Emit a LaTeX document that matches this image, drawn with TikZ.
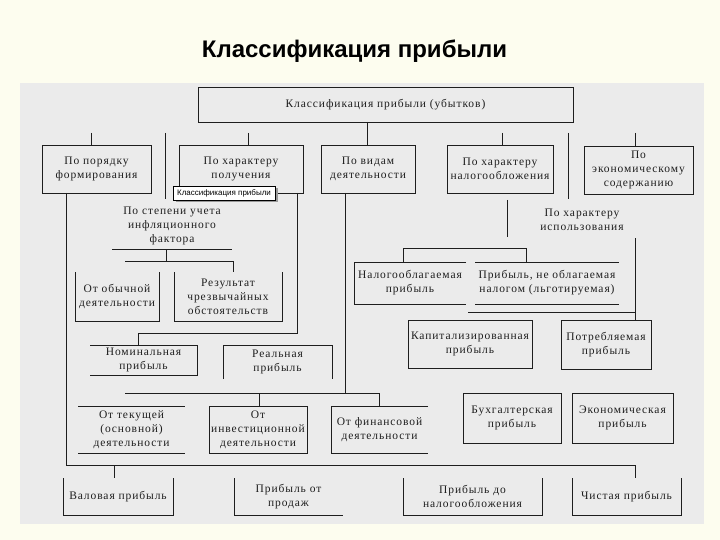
\documentclass[tikz,border=0pt]{standalone}
\usepackage{fontspec}
\setmainfont{Liberation Serif}
\newfontfamily\dserif[LetterSpace=8]{Liberation Serif}
\newfontfamily\titlefont{Liberation Sans}
\newfontfamily\tipfont{Liberation Sans}
\definecolor{cream}{HTML}{FDFDEF}
\definecolor{panel}{HTML}{EBEBEB}
\definecolor{ink}{HTML}{1E1E1E}
\newcommand\dfont{\dserif\fontsize{11.5}{14}\selectfont}
\tikzset{
  ln/.style={draw=ink, line width=0.8pt},
  bx/.style={inner sep=0pt, outer sep=0pt, align=center, font=\dfont, text=ink},
  fb/.style={bx, ln},
}
\begin{document}
\begin{tikzpicture}[x=1pt,y=-1pt]
\useasboundingbox (0,0) rectangle (720,540);
\fill[cream] (0,0) rectangle (720,540);
\fill[panel] (20,83) rectangle (704,524);
\node[font=\titlefont\bfseries\fontsize{24}{27}\selectfont, text=black] (title) at (354.5,51) {Классификация прибыли};

% level 1
\node[fb, minimum width=375, minimum height=35] (top) at (385.5,104.5) {Классификация прибыли (убытков)};
\node[fb, minimum width=109, minimum height=48] (p1) at (96.5,169) {По порядку\\формирования};
\node[fb, minimum width=124, minimum height=48] (p2) at (241,169) {По характеру\\получения};
\node[fb, minimum width=94, minimum height=48] (p3) at (368,169) {По видам\\деятельности};
\node[fb, minimum width=106, minimum height=48] (p4) at (500,169) {По характеру\\налогообложения};
\node[fb, minimum width=109, minimum height=48] (p5) at (638.5,170) {По\\экономическому\\содержанию};

% free text nodes
\node[bx] (ps) at (172,226) {По степени учета\\инфляционного\\фактора};
\node[bx] (pu) at (582,220) {По характеру\\использования};

% level 2 boxes
\node[bx, minimum width=84, minimum height=49] (ob) at (117,296.5) {От обычной\\деятельности};
\node[bx, minimum width=108, minimum height=49] (rz) at (228,296.5) {Результат\\чрезвычайных\\обстоятельств};
\node[bx, minimum width=107, minimum height=30] (nom) at (143.5,360) {Номинальная\\прибыль};
\node[bx, minimum width=109, minimum height=34] (real) at (277.5,362) {Реальная\\прибыль};
\node[bx, minimum width=112, minimum height=42] (nal) at (410,283) {Налогооблагаемая\\прибыль};
\node[bx, minimum width=144, minimum height=42] (lg) at (547,283) {Прибыль, не облагаемая\\налогом (льготируемая)};
\node[fb, minimum width=124, minimum height=48] (kap) at (470,344) {Капитализированная\\прибыль};
\node[fb, minimum width=90, minimum height=49] (pot) at (606,344.5) {Потребляемая\\прибыль};
\node[bx, minimum width=107, minimum height=47] (tek) at (131.5,429.5) {От текущей\\(основной)\\деятельности};
\node[fb, minimum width=98, minimum height=47] (inv) at (258,429.5) {От\\инвестиционной\\деятельности};
\node[bx, minimum width=97, minimum height=47] (fin) at (379.5,429.5) {От финансовой\\деятельности};
\node[fb, minimum width=98, minimum height=50] (bux) at (512,418) {Бухгалтерская\\прибыль};
\node[fb, minimum width=101, minimum height=50] (eco) at (622.5,418) {Экономическая\\прибыль};
\node[bx, minimum width=110, minimum height=37] (val) at (118,496.5) {Валовая прибыль};
\node[bx, minimum width=109, minimum height=37] (prod) at (288.5,496.5) {Прибыль от\\продаж};
\node[bx, minimum width=139, minimum height=37] (dona) at (472.5,496.5) {Прибыль до\\налогообложения};
\node[bx, minimum width=109, minimum height=37] (chis) at (626.5,496.5) {Чистая прибыль};

% partial borders
\draw[ln] (ob.north west) -- (ob.south west) -- (ob.south east) -- (ob.north east);
\draw[ln] (rz.north west) -- (rz.south west) -- (rz.south east) -- (rz.north east);
\draw[ln] (nom.north west) -- (nom.north east) -- (nom.south east) -- (nom.south west);
\draw[ln] (real.south west) -- (real.north west) -- (real.north east) -- (real.south east);
\draw[ln] (nal.north east) -- (nal.north west) -- (nal.south west) -- (nal.south east);
\draw[ln] (lg.north west) -- (lg.north east) (lg.south west) -- (lg.south east);
\draw[ln] (tek.north west) -- (tek.north east) (tek.south west) -- (tek.south east);
\draw[ln] (fin.north east) -- (fin.north west) -- (fin.south west) -- (fin.south east);
\draw[ln] (val.north west) -- (val.south west) -- (val.south east) -- (val.north east);
\draw[ln] (prod.north west) -- (prod.south west) -- (prod.south east);
\draw[ln] (dona.north west) -- (dona.south west) -- (dona.south east) -- (dona.north east);
\draw[ln] (chis.north west) -- (chis.south west) -- (chis.south east) -- (chis.north east);

% coordinates
\coordinate (t1) at (91,133);
\coordinate (t2) at (248,133);
\coordinate (t3) at (367,133);
\coordinate (t4) at (502,133);
\coordinate (t5) at (635,133);
\coordinate (f1a) at (165,133); \coordinate (f1b) at (165,199);
\coordinate (f2a) at (568,133); \coordinate (f2b) at (568,199);
\coordinate (u1) at (112,249); \coordinate (u2) at (232,249);
\coordinate (u3) at (166,249); \coordinate (u4) at (166,261);
\coordinate (u5) at (125,261); \coordinate (u6) at (233,261);
\coordinate (g1) at (297,333); \coordinate (g2) at (138,333);
\coordinate (h1) at (66,465); \coordinate (h2) at (635,465); \coordinate (h3) at (114,465);
\coordinate (k1) at (345,393); \coordinate (k2) at (125,393); \coordinate (k3) at (379,393); \coordinate (k4) at (259,393);
\coordinate (m1) at (507,200); \coordinate (m2) at (507,237);
\coordinate (n1) at (403,248); \coordinate (n2) at (526,248);
\coordinate (q1) at (635,238); \coordinate (q2) at (468,312); \coordinate (q3) at (635,312);

% connectors
\draw[ln] (t1) -- (t1 |- p1.north);
\draw[ln] (t2) -- (t2 |- p2.north);
\draw[ln] (t3 |- top.south) -- (t3 |- p3.north);
\draw[ln] (t4) -- (t4 |- p4.north);
\draw[ln] (t5) -- (t5 |- p5.north);
\draw[ln] (f1a) -- (f1b);
\draw[ln] (f2a) -- (f2b);
\draw[ln] (u1) -- (u2);
\draw[ln] (u3) -- (u4);
\draw[ln] (u5) -- (u6) -- (u6 |- rz.north);
\draw[ln] (g1 |- p2.south) -- (g1) -- (g2) -- (g2 |- nom.north);
\draw[ln] (h1 |- p1.south) -- (h1) -- (h2) -- (h2 |- chis.north);
\draw[ln] (h3) -- (h3 |- val.north);
\draw[ln] (k1 |- p3.south) -- (k1);
\draw[ln] (k2) -- (k3) -- (k3 |- fin.north);
\draw[ln] (k4) -- (k4 |- inv.north);
\draw[ln] (m1) -- (m2);
\draw[ln] (n1 |- nal.north) -- (n1) -- (n2) -- (n2 |- lg.north);
\draw[ln] (q1) -- (q1 |- pot.north);
\draw[ln] (q2) -- (q3);

% tooltip
\fill[black!40] (175.5,188.5) rectangle (277.5,202.5);
\node[draw=black, line width=0.6pt, fill=white, inner sep=0pt, minimum width=102, minimum height=14, font=\tipfont\fontsize{8}{9}\selectfont] (tip) at (224,193) {Классификация прибыли};
\end{tikzpicture}
\end{document}
